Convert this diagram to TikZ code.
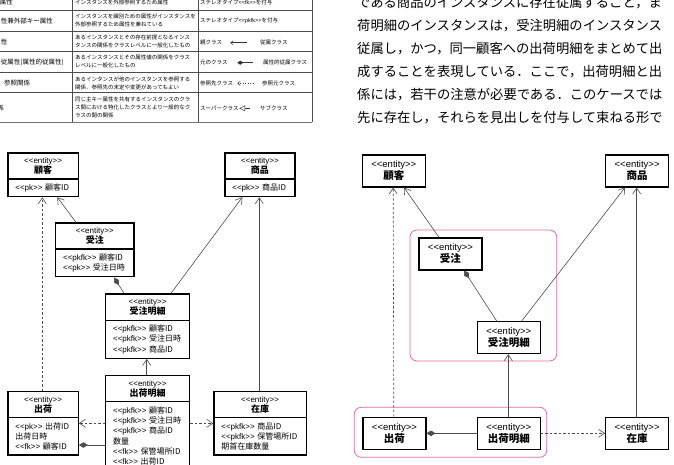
\documentclass[tikz,border=0pt]{standalone}
\usepackage{fontspec}
\setmainfont{Liberation Sans}
\newfontfamily\jp{Noto Sans CJK JP}
\usepackage{tikz}
\usetikzlibrary{arrows.meta,shapes.multipart}
\definecolor{grppink}{RGB}{228,108,158}
\newcommand\stereo[1]{{\rmfamily<{}<#1>{}>}}

\begin{document}
\begin{tikzpicture}[x=1pt,y=-1pt,
  rule/.style={draw=black!70, line width=0.6pt},
  cell/.style={anchor=west, inner sep=0pt, align=left, font=\jp\fontsize{5.5}{8}\selectfont},
  head/.style={cell, font=\jp\fontsize{6.5}{8}\selectfont},
  para/.style={anchor=west, inner sep=0pt, font=\jp\fontsize{13.3}{16}\selectfont},
  cls/.style={draw, line width=1.2pt, rectangle split, rectangle split parts=2, anchor=north west,
    inner xsep=7.5pt, inner ysep=4pt, font=\jp\fontsize{8}{10.3}\selectfont},
  ent/.style={draw, line width=1.2pt, anchor=north west, minimum width=63pt, minimum height=32pt,
    inner sep=0pt, align=center, font=\jp\fontsize{9.5}{12}\selectfont},
  nav/.style={draw=black!70, line width=0.6pt, -{Straight Barb[length=6pt,width=8pt]}},
  dep/.style={nav, dash pattern=on 2.5pt off 2pt},
  comp/.style={draw=black!70, line width=0.6pt, -{Diamond[length=9pt,width=5.5pt]}},
  grp/.style={draw=grppink, line width=0.8pt, rounded corners=7pt},
  tip/.style={line width=0.5pt, draw=black!80}
]
\useasboundingbox (0,0) rectangle (674,464);
\clip (0,0) rectangle (674,464);
\fill[white] (0,0) rectangle (674,464);

% table (cut off on the left and at the top)
\foreach \y in {10.3,31,51.3,72,92.7}
  \draw[rule] (-1,\y) -- (312,\y);
\draw[rule, draw=black!55, line width=0.9pt] (-1,122) -- (312,122);
\foreach \x in {72,198,312}
  \draw[rule] (\x,-1) -- (\x,122);

\node[head, anchor=east] (h1) at (13,2) {属性};
\node[head, anchor=east] (h2) at (53,20.7) {性兼外部キー属性};
\node[head, anchor=east] (h3) at (7.5,42) {属性};
\node[head, anchor=east] (h4) at (64,62.7) {従属性(属性的従属性)};
\node[head] (h5) at (4,83) {参照関係};
\node[head, anchor=east] (h6) at (4,108) {係};

\node[cell] (d1) at (75,2) {インスタンスを外部参照するため属性};
\node[cell] (d2) at (75,20) {インスタンスを識別ための属性がインスタンスを\\外部参照するため属性を兼ねている};
\node[cell] (d3) at (75,41) {あるインスタンスとその存在前提となるインス\\タンスの関係をクラスレベルに一般化したもの};
\node[cell] (d4) at (75,61.3) {あるインスタンスとその属性値の関係をクラス\\レベルに一般化したもの};
\node[cell] (d5) at (75,83) {あるインタンスが他のインスタンスを参照する\\関係．参照先の未定や変更があってもよい};
\node[cell] (d6) at (75,107.5) {同じ主キー属性を共有するインスタンスのクラ\\ス間における特化したクラスとより一般的なク\\ラスの間の関係};

\node[cell] (n1) at (200,2) {ステレオタイプ\stereo{fk}を付与};
\node[cell] (n2) at (200,20.7) {ステレオタイプ\stereo{pkfk}を付与};
\node[cell] (oya) at (200,42.7) {親クラス};
\node[cell] (juzoku) at (260,42.7) {従属クラス};
\node[cell] (moto) at (200,62.7) {元のクラス};
\node[cell] (zokusei) at (263,62.7) {属性的従属クラス};
\node[cell] (sansaki) at (200,83.3) {参照先クラス};
\node[cell] (sanmoto) at (262,83.3) {参照元クラス};
\node[cell] (super) at (200,108.3) {スーパークラス};
\node[cell] (sub) at (260,108.3) {サブクラス};
\draw[tip, -{Straight Barb[length=2.5pt,width=4pt]}] ([xshift=-13pt]juzoku.west) -- ([xshift=8pt]oya.east);
\draw[tip, -{Diamond[length=6pt,width=4pt]}] ([xshift=-10pt]zokusei.west) -- ([xshift=9.5pt]moto.east);
\draw[tip, dotted, -{Straight Barb[length=2.5pt,width=4pt]}] ([xshift=-9pt]sanmoto.west) -- ([xshift=4pt]sansaki.east);
\draw[tip, -{Triangle[open,length=6pt,width=6pt]}] ([xshift=-10pt]sub.west) -- ([xshift=0.5pt]super.east);

% text on the right
\foreach \t [count=\i] in {である商品のインスタンスに存在従属すること，ま,
  荷明細のインスタンスは，受注明細のインスタンス,
  従属し，かつ，同一顧客への出荷明細をまとめて出,
  成することを表現している．ここで，出荷明細と出,
  係には，若干の注意が必要である．このケースでは,
  先に存在し，それらを見出しを付与して束ねる形で}
  \node[para] (p\i) at (357,{3+23*(\i-1)}) {\t};

% left diagram: classes with attributes
\node[cls, text width=55.4pt] (kokyakuL) at (7.3,152.3)
  {\centering\stereo{entity}\\{\bfseries\fontsize{9}{11}\selectfont 顧客}\par
   \nodepart{two}\raggedright\stereo{pk} 顧客ID\par};
\node[cls, text width=55pt] (shohinL) at (224.3,152.3)
  {\centering\stereo{entity}\\{\bfseries\fontsize{9}{11}\selectfont 商品}\par
   \nodepart{two}\raggedright\stereo{pk} 商品ID\par};
\node[cls, text width=63.3pt] (juchuL) at (55,222.3)
  {\centering\stereo{entity}\\{\bfseries\fontsize{9}{11}\selectfont 受注}\par
   \nodepart{two}\raggedright\stereo{pkfk} 顧客ID\\\stereo{pk} 受注日時\par};
\node[cls, text width=69pt] (jmL) at (105,293.3)
  {\centering\stereo{entity}\\{\bfseries\fontsize{9}{11}\selectfont 受注明細}\par
   \nodepart{two}\raggedright\stereo{pkfk} 顧客ID\\\stereo{pkfk} 受注日時\\\stereo{pkfk} 商品ID\par};
\node[cls, text width=69pt] (smL) at (105,375)
  {\centering\stereo{entity}\\{\bfseries\fontsize{9}{11}\selectfont 出荷明細}\par
   \nodepart{two}\raggedright\stereo{pkfk} 顧客ID\\\stereo{pkfk} 受注日時\\\stereo{pkfk} 商品ID\\数量\\\stereo{fk} 保管場所ID\\\stereo{fk} 出荷ID\par};
\node[cls, text width=55.4pt] (shukaL) at (7.3,391)
  {\centering\stereo{entity}\\{\bfseries\fontsize{9}{11}\selectfont 出荷}\par
   \nodepart{two}\raggedright\stereo{pk} 出荷ID\\出荷日時\\\stereo{fk} 顧客ID\par};
\node[cls, text width=77.4pt] (zaikoL) at (213.3,391)
  {\centering\stereo{entity}\\{\bfseries\fontsize{9}{11}\selectfont 在庫}\par
   \nodepart{two}\raggedright\stereo{pkfk} 商品ID\\\stereo{pkfk} 保管場所ID\\期首在庫数量\par};

\draw[dep] ([xshift=35pt]shukaL.north west) -- ([xshift=35pt]kokyakuL.south west);
\draw[nav] ([xshift=21pt]juchuL.north west) -- ([xshift=50pt]kokyakuL.south west);
\draw[nav] ([xshift=66pt]jmL.north west) -- ([xshift=18pt]shohinL.south west);
\draw[nav] ([xshift=46pt]zaikoL.north west) -- ([xshift=35pt]shohinL.south west);
\draw[comp] ([xshift=19pt]jmL.north west) -- ([xshift=59pt]juchuL.south west);
\draw[nav] ([xshift=41.7pt]smL.north west) -- ([xshift=41.7pt]jmL.south west);
\draw[dep] ([yshift=-48.3pt]smL.north west) -- ([yshift=-32.3pt]shukaL.north east);
\draw[comp] ([yshift=-70pt]smL.north west) -- ([yshift=-54pt]shukaL.north east);
\draw[dep] ([yshift=-48.3pt]smL.north east) -- ([yshift=-32.3pt]zaikoL.north west);

% right diagram: classes only, grouped
\draw[grp] (410,230) rectangle (556.7,361);
\draw[grp] (354.3,407.3) rectangle (546.7,457.3);
\node[ent] (kokyakuR) at (361.7,154.3) {\stereo{entity}\\{\bfseries\fontsize{10.5}{12}\selectfont 顧客}};
\node[ent] (shohinR) at (605,154.3) {\stereo{entity}\\{\bfseries\fontsize{10.5}{12}\selectfont 商品}};
\node[ent] (juchuR) at (418.3,237.3) {\stereo{entity}\\{\bfseries\fontsize{10.5}{12}\selectfont 受注}};
\node[ent] (jmR) at (476.7,321) {\stereo{entity}\\{\bfseries\fontsize{10.5}{12}\selectfont 受注明細}};
\node[ent] (shukaR) at (362.3,416.7) {\stereo{entity}\\{\bfseries\fontsize{10.5}{12}\selectfont 出荷}};
\node[ent] (smR) at (476.7,416.7) {\stereo{entity}\\{\bfseries\fontsize{10.5}{12}\selectfont 出荷明細}};
\node[ent] (zaikoR) at (605,416.7) {\stereo{entity}\\{\bfseries\fontsize{10.5}{12}\selectfont 在庫}};

\draw[dep] ([xshift=31.5pt]shukaR.north west) -- ([xshift=31.5pt]kokyakuR.south west);
\draw[nav] ([xshift=20.7pt]juchuR.north west) -- ([xshift=42.3pt]kokyakuR.south west);
\draw[nav] ([xshift=45pt]jmR.north west) -- ([xshift=20pt]shohinR.south west);
\draw[nav] ([xshift=31.7pt]zaikoR.north west) -- ([xshift=31.7pt]shohinR.south west);
\draw[comp] ([xshift=20pt]jmR.north west) -- ([xshift=45.7pt]juchuR.south west);
\draw[nav] ([xshift=31.6pt]smR.north west) -- ([xshift=31.6pt]jmR.south west);
\draw[comp] (smR.west) -- (shukaR.east);
\draw[dep] (smR.east) -- (zaikoR.west);
\end{tikzpicture}
\end{document}
